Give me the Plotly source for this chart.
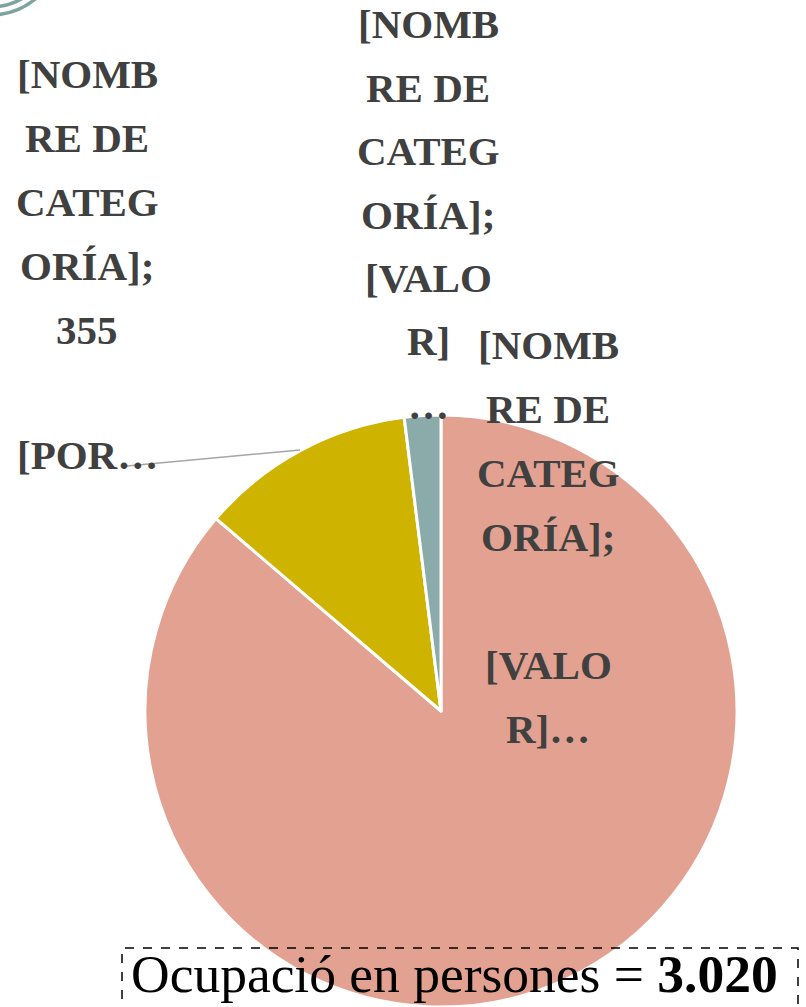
import plotly.graph_objects as go

W, H = 806, 1007

# data
categories = ["[NOMBRE DE CATEGORÍA] A", "[NOMBRE DE CATEGORÍA] B", "[NOMBRE DE CATEGORÍA] C"]
values = [2605, 355, 60]
colors = ["#E3A291", "#CEB400", "#8AABAA"]
total_label = "3.020"

label_top_left = ["[NOMB", "RE DE", "CATEG", "ORÍA];", "355"]
label_top_mid = ["[NOMB", "RE DE", "CATEG", "ORÍA];", "[VALO", "R]", "…"]
label_right = ["[NOMB", "RE DE", "CATEG", "ORÍA];", "", "[VALO", "R]…"]
label_pct = "[POR…"


def px(x):
    return x / W


def py(y):
    return 1 - y / H


fig = go.Figure()

fig.add_trace(go.Pie(
    labels=categories,
    values=values,
    sort=False,
    direction="clockwise",
    rotation=0,
    marker=dict(colors=colors, line=dict(color="white", width=3)),
    textinfo="none",
    hoverinfo="label+value",
    showlegend=False,
    domain=dict(x=[px(441 - 298), px(441 + 298)], y=[0, 592 / H]),
))

lab_font = dict(family="Liberation Serif", size=41, color="#404040")
anns = []


def add_lines(lines, cx, y0, step=64):
    for i, t in enumerate(lines):
        if not t:
            continue
        anns.append(dict(x=px(cx), y=py(y0 + i * step), xref="paper", yref="paper",
                         text="<b>%s</b>" % t, showarrow=False, font=lab_font,
                         xanchor="center", yanchor="middle"))


add_lines(label_top_left, 87, 74)
add_lines(label_top_mid, 428, 24, step=63.5)
add_lines(label_right, 548, 345)
anns.append(dict(x=px(87), y=py(455), xref="paper", yref="paper", text="<b>%s</b>" % label_pct,
                 showarrow=False, font=lab_font, xanchor="center", yanchor="middle"))

anns.append(dict(x=px(454), y=py(974), xref="paper", yref="paper",
                 text="Ocupació en persones = <b>%s</b>" % total_label, showarrow=False,
                 font=dict(family="Liberation Serif", size=53.5, color="black"),
                 xanchor="center", yanchor="middle"))

shapes = [
    # leader line
    dict(type="line", xref="paper", yref="paper", x0=px(127), y0=py(466), x1=px(300), y1=py(450),
         line=dict(color="#A6A6A6", width=1.5)),
    # dashed box
    dict(type="rect", xref="paper", yref="paper", x0=px(122), y0=py(1030), x1=px(798), y1=py(948),
         line=dict(color="black", width=1.5, dash="dash")),
]
# decorative arcs top-left
for r in (64, 72):
    cx, cy = -10, -57
    shapes.append(dict(type="circle", xref="paper", yref="paper",
                       x0=px(cx - r), x1=px(cx + r), y0=py(cy + r), y1=py(cy - r),
                       line=dict(color="#7FA3A1", width=3.5)))

fig.update_layout(
    width=W, height=H,
    margin=dict(l=0, r=0, t=0, b=0),
    paper_bgcolor="white", plot_bgcolor="white",
    annotations=anns, shapes=shapes,
)

fig.write_html("out.html", config={"displayModeBar": False},
               post_script="document.body.style.margin='0px';")
